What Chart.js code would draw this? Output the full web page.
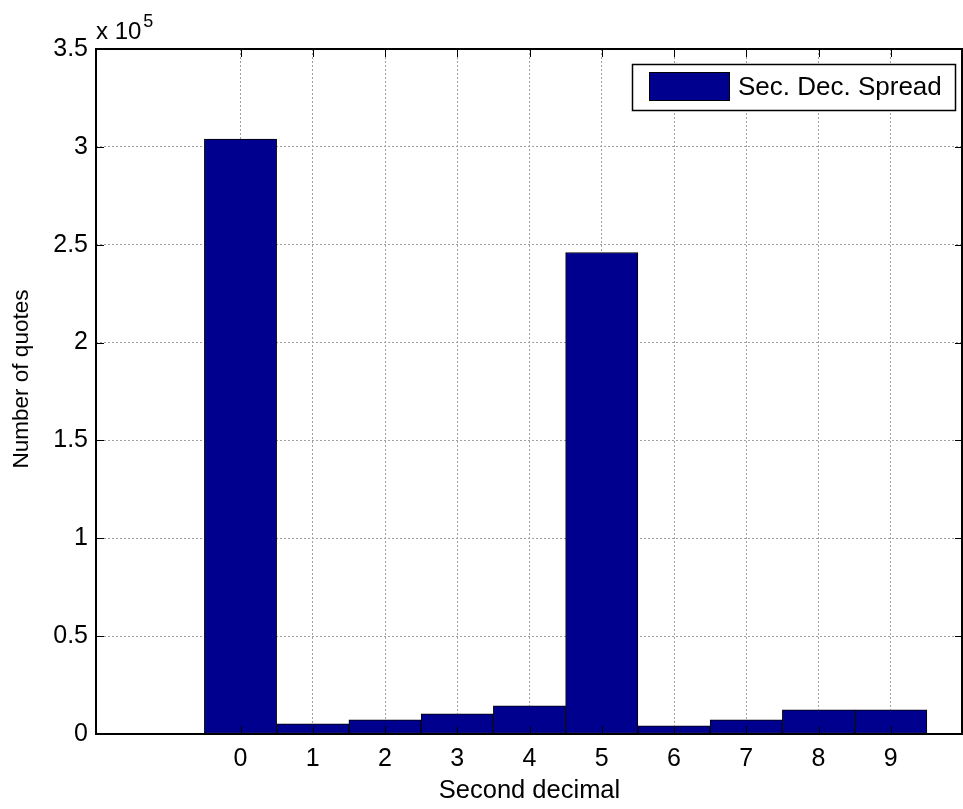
<!DOCTYPE html>
<html>
<head>
<meta charset="utf-8">
<script src="https://cdn.jsdelivr.net/npm/chart.js@4/dist/chart.umd.min.js"></script>
<style>
  html, body { margin: 0; padding: 0; background: #ffffff; }
  #wrap { width: 963px; height: 809px; }
</style>
</head>
<body>
<div id="wrap"><canvas id="c" width="963" height="809"></canvas></div>
<script>
// Second-decimal digits and how many quotes end in each
const digits = [0, 1, 2, 3, 4, 5, 6, 7, 8, 9];
const digitLabels = ['0', '1', '2', '3', '4', '5', '6', '7', '8', '9'];
const quoteCounts = [304000, 5200, 7200, 10300, 14400, 246000, 4200, 7200, 12300, 12300];
const yTickValues = [0, 50000, 100000, 150000, 200000, 250000, 300000, 350000];
const yExponent = 5;
const seriesName = 'Sec. Dec. Spread';
const xTitle = 'Second decimal';
const yTitle = 'Number of quotes';

const FONT = "'Liberation Sans', Arial, Helvetica, sans-serif";
const FS = 25;
const BAR_COLOR = '#00008f';

// Box frame, inward tick marks, axis exponent, y title and an in-plot legend
const matlabAxes = {
  id: 'matlabAxes',
  afterDraw(chart) {
    const { ctx, chartArea: a, scales } = chart;
    const xs = scales.x, ys = scales.y;
    const tl = 8;
    ctx.save();
    ctx.strokeStyle = '#000';
    ctx.lineWidth = 1;
    ctx.beginPath();
    xs.ticks.forEach(t => {
      const px = Math.round(xs.getPixelForValue(t.value)) + 0.5;
      ctx.moveTo(px, a.top); ctx.lineTo(px, a.top + tl);
      ctx.moveTo(px, a.bottom); ctx.lineTo(px, a.bottom - tl);
    });
    ys.ticks.forEach(t => {
      const py = Math.round(ys.getPixelForValue(t.value)) + 0.5;
      ctx.moveTo(a.left, py); ctx.lineTo(a.left + tl, py);
      ctx.moveTo(a.right, py); ctx.lineTo(a.right - tl, py);
    });
    ctx.stroke();

    // frame
    ctx.lineWidth = 2;
    ctx.strokeRect(Math.round(a.left), Math.round(a.top), Math.round(a.right - a.left) - 1, Math.round(a.bottom - a.top));

    // exponent label
    ctx.fillStyle = '#000';
    ctx.textBaseline = 'alphabetic';
    ctx.textAlign = 'left';
    ctx.font = '24px ' + FONT;
    const base = 'x 10';
    ctx.fillText(base, a.left, a.top - 10);
    const bw = ctx.measureText(base).width;
    ctx.font = '18px ' + FONT;
    ctx.fillText(String(yExponent), a.left + bw + 2, a.top - 22);

    // y axis title
    ctx.save();
    ctx.translate(22, 379);
    ctx.rotate(-Math.PI / 2);
    ctx.textAlign = 'center';
    ctx.textBaseline = 'middle';
    ctx.font = '22.5px ' + FONT;
    ctx.fillText(yTitle, 0, 0);
    ctx.restore();

    // legend
    const lx = 632, ly = 64, lw = 323, lh = 46;
    ctx.fillStyle = '#fff';
    ctx.fillRect(lx, ly, lw, lh);
    ctx.lineWidth = 1.5;
    ctx.strokeStyle = '#000';
    ctx.strokeRect(lx + 0.5, ly + 0.5, lw, lh);
    ctx.fillStyle = BAR_COLOR;
    ctx.fillRect(649, 72, 80, 28);
    ctx.lineWidth = 1;
    ctx.strokeRect(649.5, 72.5, 80, 28);
    ctx.fillStyle = '#000';
    ctx.font = '26px ' + FONT;
    ctx.textBaseline = 'middle';
    ctx.textAlign = 'left';
    ctx.fillText(chart.data.datasets[0].label, 738, 88);
    ctx.restore();
  }
};

new Chart(document.getElementById('c'), {
  type: 'bar',
  data: {
    datasets: [{
      label: seriesName,
      data: digits.map((d, i) => ({ x: d, y: quoteCounts[i] })),
      backgroundColor: BAR_COLOR,
      borderColor: '#000',
      borderWidth: 1,
      borderSkipped: false,
      barPercentage: 1,
      categoryPercentage: 1
    }]
  },
  options: {
    responsive: false,
    animation: false,
    events: [],
    layout: { padding: { top: 49, right: 0, left: 0, bottom: 0 } },
    plugins: { legend: { display: false }, tooltip: { enabled: false } },
    scales: {
      x: {
        type: 'linear',
        min: -2,
        max: 10,
        offset: false,
        grid: { offset: false, color: '#a0a0a0', lineWidth: 1, drawTicks: false },
        border: { display: false, dash: [2, 2] },
        afterBuildTicks: s => { s.ticks = digits.map(v => ({ value: v })); },
        ticks: {
          autoSkip: false,
          maxRotation: 0,
          padding: 10,
          color: '#000',
          font: { family: FONT, size: FS },
          callback: (v) => digitLabels[digits.indexOf(v)]
        },
        title: {
          display: true,
          text: xTitle,
          color: '#000',
          font: { family: FONT, size: 25.5 },
          padding: { top: 0, bottom: 3 }
        },
        afterFit: s => { s.height = 75; }
      },
      y: {
        type: 'linear',
        min: 0,
        max: 350000,
        grid: { color: '#a0a0a0', lineWidth: 1, drawTicks: false },
        border: { display: false, dash: [2, 2] },
        afterBuildTicks: s => { s.ticks = yTickValues.map(v => ({ value: v })); },
        ticks: {
          padding: 8,
          color: '#000',
          font: { family: FONT, size: FS },
          callback: v => String(v / Math.pow(10, yExponent))
        },
        afterFit: s => { s.width = 96; }
      }
    }
  },
  plugins: [matlabAxes]
});
</script>
</body>
</html>
